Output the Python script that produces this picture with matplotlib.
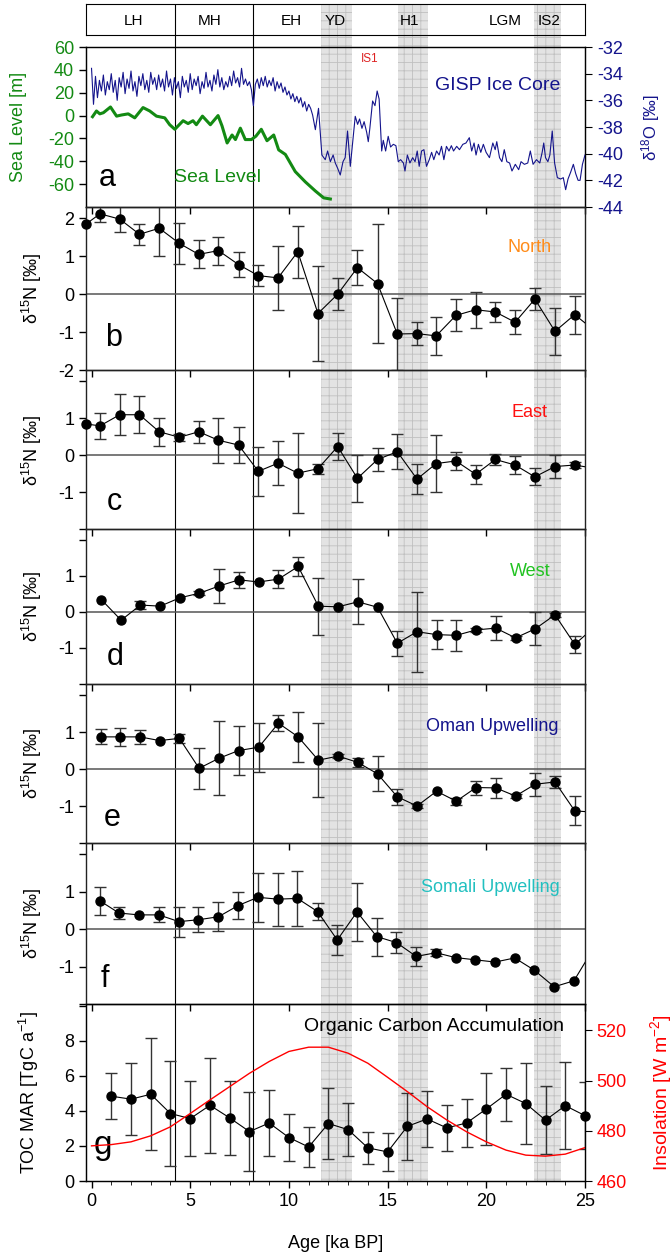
import numpy as np
import matplotlib
matplotlib.use("Agg")
import matplotlib.pyplot as plt

plt.rcParams.update({"font.family": ["Liberation Sans", "DejaVu Sans"],
                     "mathtext.fontset": "custom",
                     "mathtext.rm": "Liberation Sans",
                     "mathtext.it": "Liberation Sans:italic",
                     "axes.unicode_minus": False,
                     "hatch.linewidth": 0.6,
                     "font.size": 13,
                     })

# ---- data -------------------------------------------------------------
bands = [(11.64, 13.19), (15.55, 17.05), (22.42, 23.80)]
event_lines = [4.22, 8.19]
period_names = ["LH", "MH", "EH", "YD", "H1", "LGM", "IS2"]
period_pos = [2.13, 6.0, 10.1, 12.35, 16.1, 20.95, 23.2]

sea_age = [0.05, 0.25, 0.42, 0.6, 0.96, 1.27, 1.52, 1.86, 2.19, 2.61, 2.95,
           3.29, 3.71, 3.96, 4.22, 4.64, 4.89, 5.14, 5.31, 5.62, 6.02, 6.41,
           6.61, 6.87, 7.12, 7.29, 7.54, 7.79, 8.1, 8.33, 8.6, 8.89, 9.23,
           9.48, 9.82, 10.32, 10.83, 11.34, 11.76, 12.1]
sea_level = [-1, 4, 1.5, 2.5, 7.5, -0.5, 0.5, 1.5, -2, 7, 4, -0.5, -2, -8,
             -12, -4.5, -7, -4.5, -8, -0.5, -8, 0, -9, -24, -17, -21, -11,
             -21, -21, -18, -12, -22, -17, -30, -34, -49, -58, -66, -72, -73]

gisp_age = [0.0, 0.1, 0.2, 0.3, 0.4, 0.5, 0.6, 0.7, 0.8, 0.9,
            1.0, 1.1, 1.2, 1.3, 1.4, 1.5, 1.6, 1.7, 1.8, 1.9,
            2.0, 2.1, 2.2, 2.3, 2.4, 2.5, 2.6, 2.7, 2.8, 2.9,
            3.0, 3.1, 3.2, 3.3, 3.4, 3.5, 3.6, 3.7, 3.8, 3.9,
            4.0, 4.1, 4.2, 4.3, 4.4, 4.5, 4.6, 4.7, 4.8, 4.9,
            5.0, 5.1, 5.2, 5.3, 5.4, 5.5, 5.6, 5.7, 5.8, 5.9,
            6.0, 6.1, 6.2, 6.3, 6.4, 6.5, 6.6, 6.7, 6.8, 6.9,
            7.0, 7.1, 7.2, 7.3, 7.4, 7.5, 7.6, 7.7, 7.8, 7.9,
            8.0, 8.1, 8.2, 8.3, 8.4, 8.5, 8.6, 8.7, 8.8, 8.9,
            9.0, 9.1, 9.2, 9.3, 9.4, 9.5, 9.6, 9.7, 9.8, 9.9,
            10.0, 10.1, 10.2, 10.3, 10.4, 10.5, 10.6, 10.7, 10.8, 10.9,
            11.0, 11.1, 11.2, 11.34, 11.5, 11.67, 11.84, 11.96, 12.1, 12.24,
            12.35, 12.47, 12.6, 12.74, 12.85, 12.97, 13.11, 13.27, 13.36,
            13.48, 13.58, 13.7, 13.81, 13.94, 14.02, 14.1, 14.24, 14.36,
            14.47, 14.57, 14.7, 14.78, 14.9, 15.03, 15.15, 15.29, 15.42,
            15.54, 15.66, 15.8, 15.88, 16.0, 16.13, 16.27, 16.39, 16.5,
            16.6, 16.72, 16.84, 16.97, 17.11, 17.23, 17.34, 17.48, 17.61,
            17.73, 17.85, 17.98, 18.11, 18.23, 18.34, 18.5, 18.64, 18.81,
            18.97, 19.14, 19.26, 19.38, 19.48, 19.6, 19.72, 19.85, 19.99,
            20.16, 20.33, 20.45, 20.53, 20.67, 20.79, 20.91, 21.04, 21.18,
            21.3, 21.47, 21.64, 21.76, 21.93, 22.1, 22.23, 22.37, 22.54,
            22.71, 22.83, 22.91, 23.0, 23.12, 23.22, 23.34, 23.46, 23.6,
            23.77, 23.9, 24.02, 24.14, 24.27, 24.41, 24.53, 24.65, 24.75,
            24.87, 25.0]
gisp_d18o = [-33.6, -36.3, -34.2, -35.8, -34.5, -35.3, -34.1, -35.6, -34.6, -35.2,
             -34.0, -35.4, -34.5, -36.0, -34.3, -35.0, -33.9, -35.5, -34.4, -35.1,
             -33.8, -35.3, -34.6, -35.7, -34.2, -34.9, -34.0, -35.2, -34.5, -35.4,
             -33.9, -34.8, -34.3, -35.2, -34.1, -35.0, -34.4, -35.3, -33.8, -35.0,
             -34.4, -35.6, -34.3, -35.1, -34.6, -35.8, -34.2, -35.0, -34.5, -35.4,
             -34.0, -35.2, -34.4, -34.9, -34.2, -35.5, -34.6, -35.1, -33.9, -35.0,
             -34.5, -35.3, -34.1, -34.8, -33.7, -35.0, -34.3, -35.2, -34.6, -35.0,
             -34.2, -34.9, -33.8, -34.7, -34.3, -35.0, -33.6, -34.8, -34.4, -34.9,
             -34.6, -35.2, -36.4, -34.8, -34.4, -35.1, -34.3, -34.9, -34.2, -35.0,
             -34.5, -34.9, -34.3, -35.3, -34.6, -35.1, -34.7, -35.4, -35.0, -35.6,
             -35.3, -35.9, -35.5, -36.1, -35.7, -36.2, -35.8, -36.5, -36.1, -36.8,
             -36.3, -36.6, -37.1, -38.2, -36.6, -40.1, -40.45, -39.8, -40.6, -40.1,
             -40.7, -41.1, -41.6, -40.6, -40.3, -38.3, -40.95, -38.6, -37.2,
             -37.8, -37.4, -38.1, -37.6, -38.4, -39.1, -38.1, -36.05, -36.4,
             -35.3, -35.9, -39.8, -39.0, -39.8, -38.7, -39.5, -39.3, -39.4,
             -40.6, -40.45, -40.7, -41.3, -40.1, -40.7, -40.3, -40.6, -39.8,
             -40.95, -39.8, -39.7, -40.95, -40.45, -39.9, -40.45, -39.8, -40.1,
             -39.45, -40.45, -39.45, -39.8, -39.4, -39.8, -39.45, -39.7, -39.3,
             -39.2, -38.8, -39.8, -39.2, -40.1, -39.3, -39.9, -39.3, -39.9,
             -40.3, -39.2, -39.7, -39.1, -40.3, -40.6, -39.7, -40.6, -40.7,
             -41.3, -40.8, -41.2, -40.6, -40.8, -40.7, -39.8, -40.8, -40.45,
             -40.7, -39.9, -39.2, -40.3, -40.6, -40.1, -38.3, -40.7, -41.8,
             -41.9, -41.8, -42.7, -41.9, -41.4, -40.8, -41.5, -42.0, -42.0,
             -40.8, -40.1]

north_age = [-0.28, 0.43, 1.43, 2.43, 3.43, 4.45, 5.43, 6.43, 7.45, 8.45, 9.45,
             10.45, 11.47, 12.47, 13.47, 14.49, 15.49, 16.49, 17.46, 18.46,
             19.46, 20.46, 21.46, 22.46, 23.48, 24.48, 25.48]
north_d15n = [1.85, 2.12, 1.98, 1.58, 1.74, 1.34, 1.05, 1.15, 0.78, 0.49, 0.43,
              1.12, -0.51, 0.0, 0.70, 0.28, -1.05, -1.04, -1.10, -0.56, -0.41,
              -0.47, -0.74, -0.13, -0.98, -0.54, -0.96]
north_err = [0.0, 0.22, 0.34, 0.28, 0.73, 0.55, 0.37, 0.37, 0.33, 0.27, 0.85,
             0.68, 1.25, 0.42, 0.47, 1.56, 0.94, 0.30, 0.50, 0.42, 0.48, 0.27,
             0.32, 0.30, 0.62, 0.50, 0.0]

east_age = north_age
east_d15n = [0.84, 0.79, 1.09, 1.09, 0.63, 0.48, 0.63, 0.40, 0.27, -0.44, -0.22,
             -0.49, -0.37, 0.23, -0.63, -0.12, 0.09, -0.65, -0.23, -0.16, -0.52,
             -0.12, -0.27, -0.59, -0.31, -0.27, -0.36]
east_err = [0.0, 0.36, 0.56, 0.50, 0.38, 0.10, 0.30, 0.61, 0.48, 0.67, 0.60,
            1.09, 0.13, 0.36, 0.64, 0.31, 0.47, 0.40, 0.77, 0.25, 0.26, 0.14,
            0.25, 0.23, 0.31, 0.07, 0.0]

west_age = [0.5, 1.5, 2.48, 3.48, 4.47, 5.47, 6.47, 7.47, 8.47, 9.47, 10.47,
            11.49, 12.49, 13.49, 14.49, 15.49, 16.49, 17.48, 18.48, 19.48,
            20.48, 21.48, 22.48, 23.48, 24.48, 25.48]
west_d15n = [0.34, -0.23, 0.19, 0.16, 0.39, 0.52, 0.72, 0.89, 0.83, 0.91, 1.26,
             0.16, 0.14, 0.28, 0.13, -0.87, -0.55, -0.63, -0.65, -0.50, -0.45,
             -0.72, -0.47, -0.08, -0.90, -0.42]
west_err = [0, 0, 0.11, 0, 0, 0.05, 0.47, 0.23, 0, 0.24, 0.27, 0.79, 0, 0.62,
            0, 0.34, 1.11, 0.40, 0.43, 0.05, 0.34, 0.05, 0.46, 0.05, 0.24, 0]

oman_age = [0.46, 1.46, 2.45, 3.45, 4.45, 5.45, 6.45, 7.45, 8.47, 9.47, 10.47,
            11.49, 12.49, 13.49, 14.49, 15.49, 16.49, 17.48, 18.48, 19.48,
            20.48, 21.48, 22.48, 23.48, 24.48, 25.48]
oman_d15n = [0.87, 0.87, 0.87, 0.77, 0.83, 0.02, 0.29, 0.50, 0.59, 1.24, 0.87,
             0.24, 0.35, 0.18, -0.13, -0.75, -1.00, -0.60, -0.87, -0.50, -0.51,
             -0.73, -0.41, -0.35, -1.13, -1.17]
oman_err = [0.20, 0.25, 0.19, 0, 0.13, 0.55, 1.0, 0.67, 0.66, 0.21, 0.68, 1.0,
            0.05, 0.12, 0.47, 0.21, 0.05, 0, 0.10, 0.19, 0.27, 0.05, 0.31, 0.16,
            0.39, 0]

somali_age = [0.41, 1.39, 2.39, 3.41, 4.43, 5.41, 6.43, 7.43, 8.43, 9.43, 10.43,
              11.45, 12.45, 13.45, 14.45, 15.45, 16.45, 17.45, 18.44, 19.44,
              20.44, 21.44, 22.44, 23.44, 24.44, 25.45]
somali_d15n = [0.76, 0.43, 0.38, 0.38, 0.20, 0.25, 0.33, 0.63, 0.85, 0.80, 0.82,
               0.47, -0.29, 0.46, -0.20, -0.36, -0.73, -0.63, -0.76, -0.82,
               -0.88, -0.77, -1.10, -1.54, -1.38, -0.50]
somali_err = [0.37, 0.16, 0, 0.20, 0.40, 0.34, 0.39, 0.37, 0.66, 0.71, 0.73,
              0.22, 0.39, 0.78, 0.51, 0.27, 0.25, 0.10, 0, 0, 0, 0, 0, 0, 0, 0]

toc_age = [1, 2, 3, 4, 5, 6, 7, 8, 9, 10, 11, 12, 13, 14, 15, 16, 17, 18, 19,
           20, 21, 22, 23, 24, 25]
toc_mar = [4.84, 4.67, 4.95, 3.85, 3.56, 4.32, 3.60, 2.82, 3.31, 2.48, 1.94,
           3.28, 2.93, 1.89, 1.66, 3.12, 3.54, 3.03, 3.31, 4.11, 4.95, 4.42,
           3.47, 4.30, 3.73]
toc_err = [1.30, 2.07, 3.20, 2.97, 2.14, 2.70, 2.10, 2.25, 1.90, 1.35, 1.15,
           2.05, 1.50, 0.90, 1.10, 1.90, 1.60, 1.30, 1.35, 2.05, 1.50, 2.30,
           1.95, 2.50, 1.90]

insol_age = [0, 1, 2, 3, 4, 5, 6, 7, 8, 9, 10, 11, 12, 13, 14, 15, 16, 17, 18,
             19, 20, 21, 22, 23, 24, 25]
insolation = [474.0, 474.5, 475.6, 478.0, 481.6, 486.9, 492.3, 497.6, 502.9,
              507.6, 511.6, 513.3, 513.3, 510.9, 506.9, 501.3, 495.6, 489.6,
              484.3, 479.6, 475.6, 472.3, 470.3, 469.9, 470.7, 473.3]

# ---- layout ------------------------------------------------------------
W, H = 672, 1260
X0, X1 = 86, 585
XLIM = (-0.28, 25)
GREEN = "#138a13"
NAVY = "#14148c"
D15N_LABEL = "δ$^{15}$N [‰]"


def rect(top, bottom):
    return [X0 / W, 1 - bottom / H, (X1 - X0) / W, (bottom - top) / H]


def fig_text(x, y, s, **kw):
    fig.text(x / W, 1 - y / H, s, ha="center", va="center", **kw)


def style_axis(ax):
    ax.set_facecolor("none")
    ax.set_xlim(XLIM)
    ax.set_xticks([0, 5, 10, 15, 20, 25])
    ax.tick_params(direction="out", length=5, width=1, labelsize=13)
    for sp in ax.spines.values():
        sp.set_color("#222222")
        sp.set_linewidth(1.0)


def d15n_panel(ax, age, val, err, label, color, lab_xy, letter, letter_xy):
    style_axis(ax)
    age = np.array(age)
    val = np.array(val)
    err = np.array(err)
    ax.set_ylim(-2.0, 2.3)
    ax.set_yticks([-2, -1, 0, 1, 2])
    ax.set_yticklabels(["", "-1", "0", "1", ""])
    ax.tick_params(axis="x", labelbottom=False)
    ax.axhline(0, color="#555555", lw=1.1, zorder=1)
    ax.plot(age, val, color="black", lw=0.8, zorder=3)
    has_err = err > 0
    ax.errorbar(age[has_err], val[has_err], yerr=err[has_err], fmt="none",
                ecolor="#333333", elinewidth=1.0, capsize=4, capthick=1.0,
                zorder=2)
    inside = age <= 25
    ax.plot(age[inside], val[inside], "o", color="black", ms=6.5,
            clip_on=False, zorder=4)
    ax.text(lab_xy[0], lab_xy[1], label, color=color, fontsize=13,
            ha="center", va="center")
    ax.text(letter_xy[0], letter_xy[1], letter, fontsize=22, ha="left",
            va="center")


fig = plt.figure(figsize=(W / 100, H / 100), dpi=100)

# background: event bands and vertical lines across the whole column
bg = fig.add_axes(rect(4, 1181), zorder=0)
bg.set_xlim(XLIM)
bg.set_ylim(0, 1)
bg.axis("off")
for x0, x1 in bands:
    bg.axvspan(x0, x1, facecolor="#e3e3e3", edgecolor="#c0c0c0", hatch="++",
               lw=0)
for xv in event_lines:
    bg.axvline(xv, color="black", lw=0.8)

# period box
box = fig.add_axes(rect(4, 35), zorder=2)
box.set_facecolor("none")
box.set_xlim(XLIM)
box.set_ylim(0, 1)
box.set_xticks([])
box.set_yticks([])
for name, xp in zip(period_names, period_pos):
    box.text(xp, 0.45, name, fontsize=11, ha="center", va="center")

# panel a
ax_a = fig.add_axes(rect(47, 207), zorder=2)
style_axis(ax_a)
ax_a.tick_params(axis="x", labelbottom=False)
ax_a.set_ylim(-80, 60)
ax_a.set_yticks([-60, -40, -20, 0, 20, 40, 60])
ax_a.tick_params(axis="y", labelcolor=GREEN)
ax_a.plot(sea_age, sea_level, color=GREEN, lw=2.2)
ax_a.text(0.38, -55, "a", fontsize=22, ha="left", va="center")
ax_a2 = ax_a.twinx()
ax_a2.set_facecolor("none")
ax_a2.set_ylim(-44, -32)
ax_a2.set_yticks([-44, -42, -40, -38, -36, -34, -32])
ax_a2.tick_params(axis="y", direction="out", length=5, labelcolor=NAVY,
                  labelsize=13)
ax_a2.plot(gisp_age, gisp_d18o, color=NAVY, lw=0.8)
ax_a2.text(20.6, -34.9, "GISP Ice Core", color=NAVY, fontsize=14,
           ha="center", va="center")
ax_a2.text(4.18, -41.8, "Sea Level", color=GREEN, fontsize=14, ha="left",
           va="center")
ax_a2.text(14.1, -32.9, "IS1", color="#dd2222", fontsize=8.5, ha="center",
           va="center")

# panels b-f
ax_b = fig.add_axes(rect(207, 370), zorder=2)
d15n_panel(ax_b, north_age, north_d15n, north_err, "North", "#ff8c1a",
           (22.2, 1.23), "b", (0.7, -1.15))
ax_b.set_yticklabels(["-2", "-1", "0", "1", "2"])
ax_c = fig.add_axes(rect(370, 529), zorder=2)
d15n_panel(ax_c, east_age, east_d15n, east_err, "East", "#ff1010",
           (22.2, 1.14), "c", (0.75, -1.27))
ax_d = fig.add_axes(rect(529, 684), zorder=2)
d15n_panel(ax_d, west_age, west_d15n, west_err, "West", "#22c322",
           (22.25, 1.12), "d", (0.75, -1.26))
ax_e = fig.add_axes(rect(684, 843), zorder=2)
d15n_panel(ax_e, oman_age, oman_d15n, oman_err, "Oman Upwelling", NAVY,
           (20.3, 1.15), "e", (0.6, -1.33))
ax_f = fig.add_axes(rect(843, 1004), zorder=2)
d15n_panel(ax_f, somali_age, somali_d15n, somali_err, "Somali Upwelling",
           "#22c0c0", (20.2, 1.1), "f", (0.45, -1.34))

# panel g
ax_g = fig.add_axes(rect(1004, 1181), zorder=2)
style_axis(ax_g)
ax_g.set_ylim(0, 10.1)
ax_g.set_yticks([0, 2, 4, 6, 8, 10])
ax_g.set_yticklabels(["0", "2", "4", "6", "8", ""])
ax_g.set_xticks(range(0, 26), minor=True)
ax_g.tick_params(axis="x", which="minor", direction="out", length=3)
ax_g.errorbar(toc_age, toc_mar, yerr=toc_err, fmt="none", ecolor="#333333",
              elinewidth=1.0, capsize=4, capthick=1.0, zorder=2)
ax_g.plot(toc_age, toc_mar, "o-", color="black", lw=0.8, ms=6.5,
          clip_on=False, zorder=4)
ax_g.text(0.1, 2.05, "g", fontsize=24, ha="left", va="center")
ax_g.text(17.35, 8.8, "Organic Carbon Accumulation", fontsize=14,
          ha="center", va="center")
ax_g2 = ax_g.twinx()
ax_g2.set_facecolor("none")
ax_g2.set_ylim(460, 530.5)
ax_g2.set_yticks([460, 480, 500, 520])
ax_g2.tick_params(axis="y", direction="out", length=5, labelcolor="red",
                  labelsize=13)
ax_g2.plot(insol_age, insolation, color="red", lw=1.0)

# axis titles
fig_text(19, 127, "Sea Level [m]", color=GREEN, fontsize=13, rotation=90)
fig_text(651, 128, "δ$^{18}$O [‰]", color=NAVY, fontsize=12, rotation=90)
for yc in [288, 450, 606, 763, 923]:
    fig_text(32, yc, D15N_LABEL, fontsize=13, rotation=90)
fig_text(29, 1093, "TOC MAR [TgC a$^{-1}$]", fontsize=13, rotation=90)
fig_text(661, 1093, "Insolation [W m$^{-2}$]", color="red", fontsize=14,
         rotation=90)
fig_text(336, 1243, "Age [ka BP]", fontsize=13)

fig.savefig("out.png", dpi=100)
